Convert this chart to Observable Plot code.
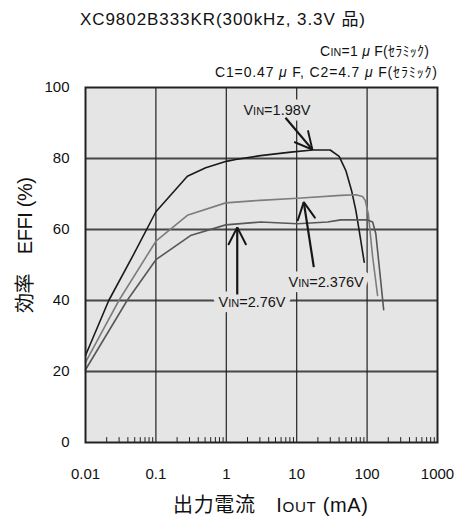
<!DOCTYPE html>
<html>
<head>
<meta charset="utf-8">
<script src="https://cdn.jsdelivr.net/npm/d3@7"></script>
<script src="https://cdn.jsdelivr.net/npm/@observablehq/plot@0.6"></script>
<style>
  html, body { margin: 0; padding: 0; background: #fff; }
  #chart { width: 461px; height: 517px; }
</style>
</head>
<body>
<div id="chart"></div>
<script>
// Efficiency vs. output current, XC9802B333KR (300 kHz, 3.3 V)
const seriesNames = ["VIN=1.98V", "VIN=2.376V", "VIN=2.76V"];
const seriesColors = ["#1a1a1a", "#7d7d7d", "#575757"];

// VIN = 1.98 V
const iout198 = [0.01, 0.0214, 0.046, 0.1, 0.28, 0.51, 1.0, 1.36, 3.06, 8.24, 16.8, 29.9, 40.1, 49.9, 60.1, 69.2, 77.2, 91];
const eff198  = [24.5, 40, 52.2, 65, 75, 77.4, 79.2, 79.7, 80.8, 81.8, 82.4, 82.4, 80.6, 76.6, 71, 65.4, 59.7, 50.8];

// VIN = 2.376 V
const iout2376 = [0.01, 0.0298, 0.1, 0.28, 0.98, 3.0, 10.3, 42.4, 69, 86, 94, 104, 120, 141];
const eff2376  = [22.6, 40, 56.7, 64, 67.5, 68.2, 68.8, 69.6, 69.8, 69.3, 68.2, 64.4, 52.2, 41.4];

// VIN = 2.76 V
const iout276 = [0.01, 0.039, 0.1, 0.31, 0.98, 3.08, 10.3, 27.4, 42.4, 101, 120, 133, 149, 172];
const eff276  = [20.5, 40, 51.5, 58.3, 61.3, 62.1, 61.6, 62.1, 62.7, 62.7, 62.1, 58.8, 49.4, 37.4];

// Axis ticks
const xTicks = [0.01, 0.1, 1, 10, 100, 1000];
const xTickLabels = ["0.01", "0.1", "1", "10", "100", "1000"];
const yTicks = [0, 20, 40, 60, 80, 100];

// Curve callouts: label anchor and arrow (tail -> head), in data units
const labelText = ["VIN=1.98V", "VIN=2.376V", "VIN=2.76V"];
const labelX = [1.75, 7.66, 0.774];
const labelY = [93.5, 45.1, 39.6];
const arrowX1 = [6.93, 17.5, 1.43];
const arrowY1 = [91.5, 49.4, 41.7];
const arrowX2 = [16.7, 12.6, 1.43];
const arrowY2 = [82.5, 67.7, 60.6];

// ---- tables built from the arrays above ----
const seriesX = [iout198, iout2376, iout276];
const seriesY = [eff198, eff2376, eff276];
const rows = seriesNames.flatMap((name, k) =>
  seriesX[k].map((x, i) => ({ name, x, y: seriesY[k][i] })));
const labels = labelText.map((text, i) => ({ text, x: labelX[i], y: labelY[i] }));
const arrows = arrowX1.map((x1, i) => ({ x1, y1: arrowY1[i], x2: arrowX2[i], y2: arrowY2[i] }));
// minor log ticks 2..9 within each decade
const minorTicks = xTicks.slice(0, -1).flatMap(d => d3.range(2, 10).map(k => d * k));

const BG = "#e5e5e5";
const INK = "#161616";
const LATIN = "'Liberation Sans', Arial, Helvetica, sans-serif";
const FONT = `${LATIN}, 'Noto Sans CJK JP', sans-serif`;

// short upward tick for the inner minor ticks
const tickUp = { draw(context, l) { context.moveTo(0, 0); context.lineTo(0, -l); } };

// "VIN" style subscripts drawn as small capitals on the same baseline
function smallCapsText(el, text) {
  const m = text.match(/^([A-Z])(IN|OUT)(.*)$/);
  if (!m) return;
  el.textContent = "";
  const s = d3.select(el);
  s.append("tspan").text(m[1]);
  s.append("tspan").attr("font-size", "0.76em").text(m[2]);
  s.append("tspan").text(m[3]);
}

function smallCaps(index, scales, values, dimensions, context, next) {
  const g = next(index, scales, values, dimensions, context);
  d3.select(g).selectAll("text").each(function () { smallCapsText(this, this.textContent); });
  return g;
}

// link + open arrowhead at the (x2, y2) end
function arrowHead(index, scales, values, dimensions, context, next) {
  const g = next(index, scales, values, dimensions, context);
  const { x1: X1, y1: Y1, x2: X2, y2: Y2 } = values;
  const L = 19, w = 27 * Math.PI / 180;
  for (const i of index) {
    const a = Math.atan2(Y1[i] - Y2[i], X1[i] - X2[i]);
    const d = `M${X2[i] + L * Math.cos(a + w)},${Y2[i] + L * Math.sin(a + w)}` +
              `L${X2[i]},${Y2[i]}` +
              `L${X2[i] + L * Math.cos(a - w)},${Y2[i] + L * Math.sin(a - w)}`;
    d3.select(g).append("path").attr("d", d).attr("fill", "none")
      .attr("stroke", INK).attr("stroke-width", 2).attr("stroke-linecap", "round");
  }
  return g;
}

const labelOptions = { x: "x", y: "y", text: "text", textAnchor: "start", fontSize: 14.5, render: smallCaps };

const chart = Plot.plot({
  width: 461,
  height: 517,
  marginLeft: 85,
  marginRight: 24,
  marginTop: 87,
  marginBottom: 75,
  style: { fontFamily: FONT, fontSize: "15px", color: "#111", background: "#fff" },
  x: {
    type: "log", domain: [0.01, 1000], ticks: xTicks,
    tickFormat: d => xTickLabels[xTicks.indexOf(d)],
    tickSize: 0, tickPadding: 26, label: null
  },
  y: { domain: [0, 100], ticks: yTicks, tickSize: 0, tickPadding: 16, label: null },
  color: { domain: seriesNames, range: seriesColors },
  marks: [
    Plot.frame({ fill: BG }),
    Plot.ruleY(yTicks.slice(1, -1), { stroke: "#474747", strokeWidth: 1.8 }),
    Plot.ruleX(xTicks.slice(1, -1), { stroke: "#222", strokeWidth: 1.2 }),
    Plot.vectorX(minorTicks, { x: d => d, frameAnchor: "bottom", anchor: "start", length: 5, shape: tickUp, stroke: "#222", strokeWidth: 1 }),
    // knock-out behind the callout labels, then the labels themselves
    Plot.text(labels, { ...labelOptions, fill: BG, stroke: BG, strokeWidth: 11 }),
    Plot.text(labels, { ...labelOptions, fill: INK }),
    Plot.line(rows, { x: "x", y: "y", z: "name", stroke: "name", strokeWidth: 1.6 }),
    Plot.link(arrows, { x1: "x1", y1: "y1", x2: "x2", y2: "y2", stroke: INK, strokeWidth: 2.2, render: arrowHead }),
    Plot.frame({ stroke: "#222", strokeWidth: 2 })
  ]
});

const svg = d3.select(chart);

// text line of fixed overall width, built from [string, style] parts
function textLine(x, y, anchor, size, width, parts) {
  const t = svg.append("text").attr("x", x).attr("y", y).attr("text-anchor", anchor)
    .attr("font-family", FONT).attr("font-size", size).attr("fill", "#111")
    .attr("textLength", width).attr("lengthAdjust", "spacing");
  for (const [s, opt] of parts) {
    const sp = t.append("tspan").text(s);
    if (opt === "sc") sp.attr("font-size", "0.76em");
    if (opt === "it") sp.attr("font-style", "italic");
  }
  return t;
}

// title and test conditions
textLine(222.5, 25, "middle", 17, 285, [["XC9802B333KR(300kHz, 3.3V 品)"]]);
textLine(429, 56, "end", 14, 109, [["C"], ["IN", "sc"], ["=1 "], ["μ", "it"], [" F(ｾﾗﾐｯｸ)"]]);
textLine(437, 77, "end", 14, 222, [["C1=0.47 "], ["μ", "it"], [" F, C2=4.7 "], ["μ", "it"], [" F(ｾﾗﾐｯｸ)"]]);

// axis titles
textLine(270.5, 512, "middle", 20, 195, [["出力電流　I"], ["OUT", "sc"], [" (mA)"]]);
textLine(0, 0, "middle", 20, 136, [["効率　EFFI (%)"]])
  .attr("x", null).attr("y", null)
  .attr("transform", "translate(32,245) rotate(-90)");

document.getElementById("chart").append(chart);
</script>
</body>
</html>
